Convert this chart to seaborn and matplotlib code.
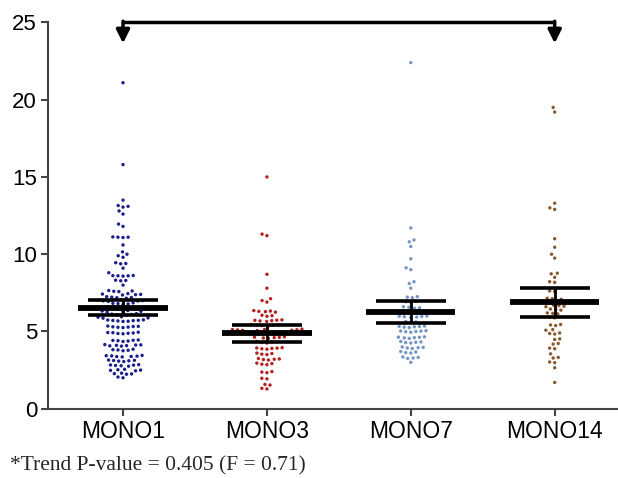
import numpy as np
import pandas as pd
import matplotlib
matplotlib.use("Agg")
import matplotlib.pyplot as plt
import seaborn as sns

categories = ["MONO1", "MONO3", "MONO7", "MONO14"]

mono1 = [21.1, 15.8, 13.5, 13.15, 13.1, 13.05, 12.8, 12.6, 11.95, 11.8,
         11.12, 11.1, 11.08, 11.1, 10.6, 10.15, 10.0, 9.9, 9.8, 9.45, 9.4, 9.38,
         9.1, 8.8, 8.62, 8.6, 8.58, 8.61, 8.6, 8.32, 8.3, 8.28, 8.0, 7.65, 7.6, 7.58, 7.62,
         7.42, 7.38, 7.45, 7.36, 7.4, 7.22, 7.18, 7.25, 7.15, 7.2, 7.02, 6.98, 7.05, 6.95, 7.0, 6.97,
         6.82, 6.78, 6.85, 6.75, 6.8, 6.52, 6.48, 6.55, 6.45, 6.5, 6.32, 6.28, 6.35, 6.25, 6.3,
         6.12, 6.08, 6.15, 6.05, 6.1, 5.92, 5.88, 5.95, 5.86,
         5.72, 5.68, 5.75, 5.65, 5.7, 5.74, 5.66, 5.71, 5.32, 5.28, 5.35, 5.25, 5.3, 5.33, 5.27,
         4.92, 4.88, 4.95, 4.85, 4.9, 4.93, 4.87, 4.42, 4.38, 4.45, 4.35, 4.4, 4.43,
         4.12, 4.08, 4.15, 4.05, 4.1, 4.13, 4.07, 3.82, 3.78, 3.85, 3.75, 3.8,
         3.42, 3.38, 3.45, 3.35, 3.4, 3.43, 3.37, 3.12, 3.08, 3.15, 3.05, 3.1, 3.13,
         2.82, 2.78, 2.85, 2.75, 2.8, 2.83, 2.52, 2.48, 2.55, 2.45, 2.5, 2.27, 2.23, 2.3, 2.25,
         2.05, 2.0]
mono3 = [15.0, 11.3, 11.2, 8.7, 7.8, 7.12, 7.0, 6.9, 6.32, 6.28, 6.35, 6.25, 6.3,
         6.02, 5.98, 6.05, 5.72, 5.68, 5.75, 5.65, 5.7, 5.73, 5.42, 5.38, 5.45, 5.35, 5.4, 5.43,
         5.12, 5.08, 5.15, 5.05, 5.1, 5.13, 5.07, 5.11, 4.92, 4.88, 4.95, 4.85, 4.9, 4.93, 4.87, 4.91,
         4.62, 4.58, 4.65, 4.55, 4.6, 4.63, 4.32, 4.28, 4.35, 4.25,
         3.92, 3.88, 3.95, 3.85, 3.9, 3.93, 3.57, 3.53, 3.6, 3.5,
         3.22, 3.18, 3.25, 3.15, 3.2, 2.92, 2.88, 2.95, 2.85, 2.37, 2.33, 2.4,
         1.97, 1.93, 1.57, 1.53, 1.32, 1.28]
mono7 = [22.4, 11.7, 10.92, 10.8, 10.5, 9.7, 9.12, 9.0, 8.22, 8.1, 7.8,
         7.22, 7.18, 7.25, 6.92, 6.88, 6.95, 6.57, 6.53, 6.6, 6.5, 6.32, 6.28,
         5.97, 5.93, 6.0, 5.9, 5.95, 5.98, 5.62, 5.58, 5.65,
         5.32, 5.28, 5.35, 5.25, 5.3, 5.33, 5.02, 4.98, 5.05, 4.95, 5.0, 5.03,
         4.62, 4.58, 4.65, 4.55, 4.6, 4.63, 4.32, 4.28, 4.35, 4.25, 4.3,
         3.97, 3.93, 4.0, 3.9, 3.95, 3.67, 3.63, 3.7, 3.6,
         3.32, 3.28, 3.35, 3.25, 3.0]
mono14 = [19.5, 19.2, 13.3, 13.0, 12.9, 11.0, 10.45, 10.0, 9.75, 8.77, 8.73,
          8.5, 8.22, 8.18, 7.62, 7.58, 7.12, 7.08, 7.15, 6.92, 6.88, 6.95, 6.85, 6.9,
          6.67, 6.63, 6.7, 6.6, 6.42, 6.38, 6.45, 6.17, 6.13, 6.2, 5.92, 5.88,
          5.42, 5.38, 5.45, 5.12, 5.08, 4.87, 4.83, 4.9, 4.52, 4.48, 4.22, 4.18,
          3.92, 3.88, 3.55, 3.32, 3.28, 3.02, 2.98, 2.65, 1.7]

means = [6.54, 4.88, 6.28, 6.91]
ci_low = [6.04, 4.34, 5.52, 5.96]
ci_high = [7.06, 5.44, 7.00, 7.84]

colors = ["#1c1f8c", "#b3201e", "#7597c2", "#8a5a2e"]
footnote = "*Trend P-value = 0.405 (F = 0.71)"
yticks = [0, 5, 10, 15, 20, 25]

df = pd.DataFrame({
    "group": (["MONO1"] * len(mono1) + ["MONO3"] * len(mono3)
              + ["MONO7"] * len(mono7) + ["MONO14"] * len(mono14)),
    "value": mono1 + mono3 + mono7 + mono14,
})

sns.set_style("white")
fig = plt.figure(figsize=(6.18, 4.78), dpi=100)
ax = fig.add_axes([0.078, 0.145, 0.922, 0.808])

ax.set_ylim(0, 25)
ax.set_xlim(-0.52, 3.44)

# swarm laid out with a slightly larger spacing, then dots drawn smaller
sns.swarmplot(data=df, x="group", y="value", hue="group", order=categories,
              hue_order=categories, palette=colors, size=3.5, linewidth=0,
              legend=False, ax=ax, zorder=2)
ax.set_ylim(0, 25)
ax.set_xlim(-0.52, 3.44)
fig.canvas.draw()
for coll in list(ax.collections):
    if "draw" in coll.__dict__:
        del coll.__dict__["draw"]
    coll.set_sizes([6.0])

xs = np.arange(len(categories))
ax.hlines(means, xs - 0.31, xs + 0.31, colors="black", linewidth=4.2, zorder=4)
yerr = np.array([np.array(means) - np.array(ci_low), np.array(ci_high) - np.array(means)])
ax.errorbar(xs, means, yerr=yerr, fmt="none", ecolor="black", elinewidth=2.0,
            capsize=25, capthick=2.6, zorder=4)

ax.set_ylim(0, 25)
ax.set_xlim(-0.52, 3.44)
ax.set_yticks(yticks)
ax.set_yticklabels([str(t) for t in yticks], fontsize=16, family="Liberation Sans")
ax.set_xticks(xs)
ax.set_xticklabels(categories, fontsize=16.5, family="Liberation Sans")
ax.set_xlabel("")
ax.set_ylabel("")
for s in ["top", "right"]:
    ax.spines[s].set_visible(False)
for s in ["left", "bottom"]:
    ax.spines[s].set_color("#444444")
    ax.spines[s].set_linewidth(1.5)
ax.tick_params(axis="both", direction="out", length=5, width=1.5, color="#444444",
               labelcolor="black", pad=3, left=True, bottom=True)

# bracket with arrows
ax.plot([0, 3], [25, 25], color="black", linewidth=2.5, clip_on=False, zorder=5,
        solid_capstyle="butt")
for xi in [0, 3]:
    ax.annotate("", xy=(xi, 23.65), xytext=(xi, 25.08), xycoords="data",
                arrowprops=dict(arrowstyle="-|>,head_width=0.4,head_length=0.8",
                                color="black", lw=2.5, shrinkA=0, shrinkB=0),
                annotation_clip=False, zorder=5)

fig.text(10 / 618, 1 - 466 / 478, footnote, fontsize=15.5, family="Liberation Serif",
         ha="left", va="center")

fig.savefig("out.png", dpi=100)
